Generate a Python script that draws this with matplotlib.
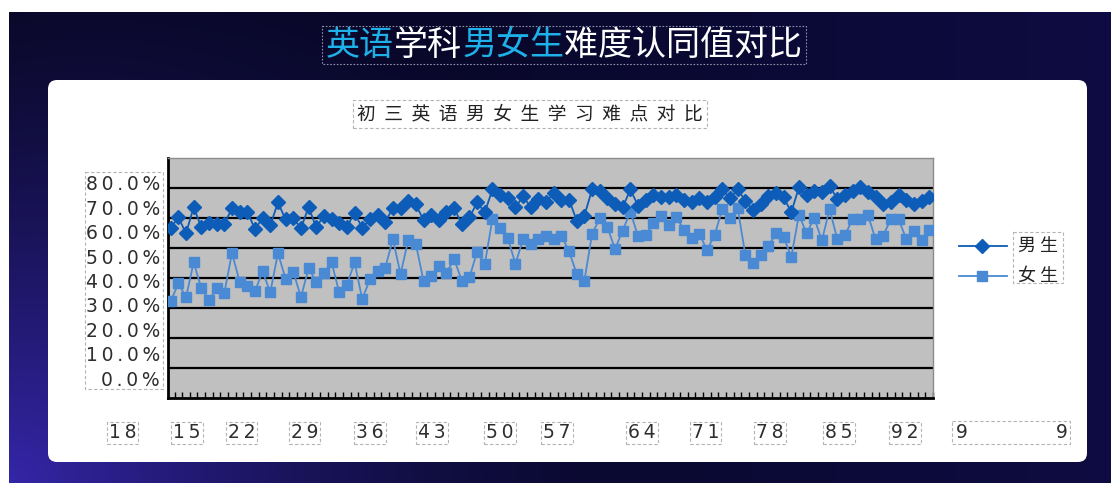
import matplotlib
matplotlib.use('Agg')
import matplotlib.pyplot as plt
import numpy as np
from matplotlib.patches import FancyBboxPatch, Rectangle
from matplotlib.lines import Line2D

plt.rcParams['font.family'] = ['Noto Sans CJK SC', 'DejaVu Sans']

W, H = 1111, 483

# 男生 / 女生 认同值（%），每个学生一个点
male = [56.7, 60.3, 55.0, 63.7, 57.0, 58.3, 58.1, 58.1, 63.3, 62.2,
        62.2, 56.4, 60.0, 57.6, 65.3, 59.6, 60.0, 56.7, 63.7, 57.0,
        60.9, 59.8, 58.3, 57.2, 61.7, 56.8, 59.6, 61.1, 58.9, 63.3,
        63.3, 65.9, 64.6, 59.4, 61.2, 59.4, 62.2, 63.3, 58.1, 60.3,
        65.3, 62.0, 69.6, 67.9, 66.8, 63.7, 67.3, 63.7, 66.4, 65.5,
        68.4, 66.2, 66.2, 59.2, 60.9, 69.6, 69.2, 66.8, 64.6, 63.7,
        69.6, 64.2, 66.2, 67.9, 67.0, 67.0, 67.9, 66.2, 65.3, 66.8,
        65.3, 67.0, 69.6, 66.7, 69.6, 65.9, 62.6, 64.6, 67.3, 68.4,
        67.0, 62.0, 70.3, 67.6, 69.2, 68.7, 70.9, 66.4, 67.9, 69.2,
        70.3, 68.7, 67.0, 64.6, 65.3, 67.6, 66.2, 64.6, 65.9, 67.2]
female = [32.3, 38.3, 33.7, 45.3, 36.7, 32.8, 36.7, 35.1, 48.4, 38.9,
          37.3, 35.7, 42.3, 35.3, 48.4, 39.8, 42.2, 33.7, 43.3, 38.9,
          41.7, 45.3, 35.3, 37.8, 45.3, 33.1, 39.6, 42.3, 43.4, 53.1,
          41.4, 52.6, 51.4, 39.2, 40.9, 44.0, 41.8, 46.4, 39.2, 40.3,
          48.9, 44.8, 59.8, 56.8, 53.4, 44.8, 53.1, 51.4, 53.1, 54.2,
          53.1, 54.2, 49.0, 41.4, 39.2, 54.8, 60.0, 57.0, 49.8, 55.9,
          62.2, 54.0, 54.4, 58.4, 60.7, 57.6, 60.3, 56.2, 53.4, 54.8,
          49.4, 54.4, 63.1, 60.0, 63.4, 47.9, 45.0, 47.6, 50.6, 55.0,
          53.9, 47.0, 61.2, 55.0, 60.1, 52.6, 63.1, 53.1, 54.4, 59.6,
          59.6, 61.1, 53.1, 54.2, 59.8, 59.8, 53.1, 55.6, 52.6, 56.1]
series_names = ['男 生', '女 生']
y_labels = ['80.0%', '70.0%', '60.0%', '50.0%', '40.0%', '30.0%',
            '20.0%', '10.0%', '0.0%']
x_labels = ['18', '15', '22', '29', '36', '43', '50', '57', '64', '71',
            '78', '85', '92']
title_parts = [('英语', True), ('学科', False), ('男女生', True), ('难度认同值对比', False)]
subtitle = '初三英语男女生学习难点对比'

CYAN = '#1eb0e8'
MALE_C = '#0c5cb8'
FEMALE_C = '#4a8ad4'
TXT = '#2e2e2e'
BOX = dict(fc='none', ec='#b4b4b4', ls=(0, (3, 2)), lw=0.8)


def spaced(s):
    # 字母间距加宽
    return '\u2009'.join(s)


fig = plt.figure(figsize=(W / 100, H / 100), dpi=100)
fig.patch.set_facecolor('white')

# 背景：整张图一个坐标系，用像素坐标
bg = fig.add_axes([0, 0, 1, 1])
bg.set_xlim(0, W)
bg.set_ylim(H, 0)
bg.axis('off')

yy, xx = np.mgrid[0:H, 0:W]
left_c = np.array([0x05, 0x05, 0x1a]) / 255
right_c = np.array([0x0e, 0x0c, 0x42]) / 255
t = (xx / W)[..., None]
img = left_c * (1 - t) + right_c * t
d = np.sqrt(xx ** 2 + (H - yy) ** 2)
glow = np.clip(1 - d / 650, 0, 1)[..., None] ** 1.6
img = img + glow * (np.array([0x34, 0x26, 0xa8]) / 255 - left_c)
img = np.clip(img, 0, 1)
bg.imshow(img, extent=[9, W, H, 12], aspect='auto', zorder=0)

# 白色面板
bg.add_patch(FancyBboxPatch((48, 80), 1039, 382,
                            boxstyle='round,pad=0,rounding_size=9',
                            fc='white', ec='none', zorder=1))

# 大标题，CJK 字宽 = 1em
fs_title = 24.5
em = fs_title * 100 / 72
x0 = 326
for txt, hl in title_parts:
    bg.text(x0, 45, txt, color=CYAN if hl else 'white', fontsize=fs_title,
            ha='left', va='center', zorder=3)
    x0 += em * len(txt)
bg.add_patch(Rectangle((322, 26), 484, 38, fc='none', ec='#8c90a8',
                       ls=(0, (1.5, 1.5)), lw=0.8, zorder=3))

# 副标题
bg.text(530, 114, '  '.join(subtitle), fontsize=13.5, color='#222222',
        ha='center', va='center', zorder=3,
        bbox=dict(boxstyle='square,pad=0.2', **BOX))

# 折线图
ax = fig.add_axes([168 / W, 1 - 398.3 / H, (933 - 168) / W, 240 / H], zorder=2)
x = np.arange(len(male))
ax.set_facecolor('#c0c0c0')
ax.plot(x, male, color=MALE_C, lw=1.3, marker='D', ms=7.5, mec=MALE_C,
        mfc=MALE_C, zorder=4)
ax.plot(x, female, color=FEMALE_C, lw=1.3, marker='s', ms=6.5, mec=FEMALE_C,
        mfc=FEMALE_C, zorder=3)
ax.set_ylim(0, 80)
ax.set_xlim(-0.35, len(male) - 0.5)
ax.set_yticks(np.arange(10, 80, 10))
ax.yaxis.grid(True, color='black', lw=1.6)
ax.set_axisbelow(True)
ax.set_xticks(np.arange(len(male)) + 0.5)
ax.tick_params(axis='x', direction='in', length=4, width=1, color='black',
               labelbottom=False)
ax.tick_params(axis='y', length=0, labelleft=False)
for s in ['left', 'bottom']:
    ax.spines[s].set_color('black')
    ax.spines[s].set_linewidth(2)
for s in ['top', 'right']:
    ax.spines[s].set_color('#8c8c8c')
    ax.spines[s].set_linewidth(1)

# 纵轴标签（错位的文本框）
for k, lab in enumerate(y_labels):
    bg.text(160, 185 + 24.4 * k, spaced(lab), fontsize=13.5, color=TXT,
            family='DejaVu Sans', ha='right', va='center', zorder=3)
bg.add_patch(Rectangle((85, 172), 78, 217, **BOX, zorder=3))

# 横轴标签
x_pos = [122.5, 187, 241.5, 304.5, 370, 432, 500, 557, 642, 705.5, 770, 839, 905]
for xp, lab in zip(x_pos, x_labels):
    bg.text(xp, 433, spaced(lab), fontsize=13.5, color=TXT, family='DejaVu Sans',
            ha='center', va='center', zorder=3,
            bbox=dict(boxstyle='square,pad=0.1', **BOX))
bg.text(956, 433, '9', fontsize=13.5, color=TXT, family='DejaVu Sans',
        ha='left', va='center', zorder=3)
bg.text(1068, 433, '9', fontsize=13.5, color=TXT, family='DejaVu Sans',
        ha='right', va='center', zorder=3)
bg.add_patch(Rectangle((952, 421), 118, 23, **BOX, zorder=3))

# 图例
for (yl, c, m, ms), name in zip([(246, MALE_C, 'D', 7), (276, FEMALE_C, 's', 6.5)],
                                series_names):
    bg.add_line(Line2D([959, 1007], [yl, yl], color=c, lw=1.3, zorder=3))
    bg.add_line(Line2D([982], [yl], color=c, marker=m, ms=ms, zorder=3))
    bg.text(1038, yl, name, fontsize=13, color='#222222', ha='center',
            va='center', zorder=3)
bg.add_patch(Rectangle((1013, 232), 50, 51, **BOX, zorder=3))

fig.savefig('out.png', dpi=100)
